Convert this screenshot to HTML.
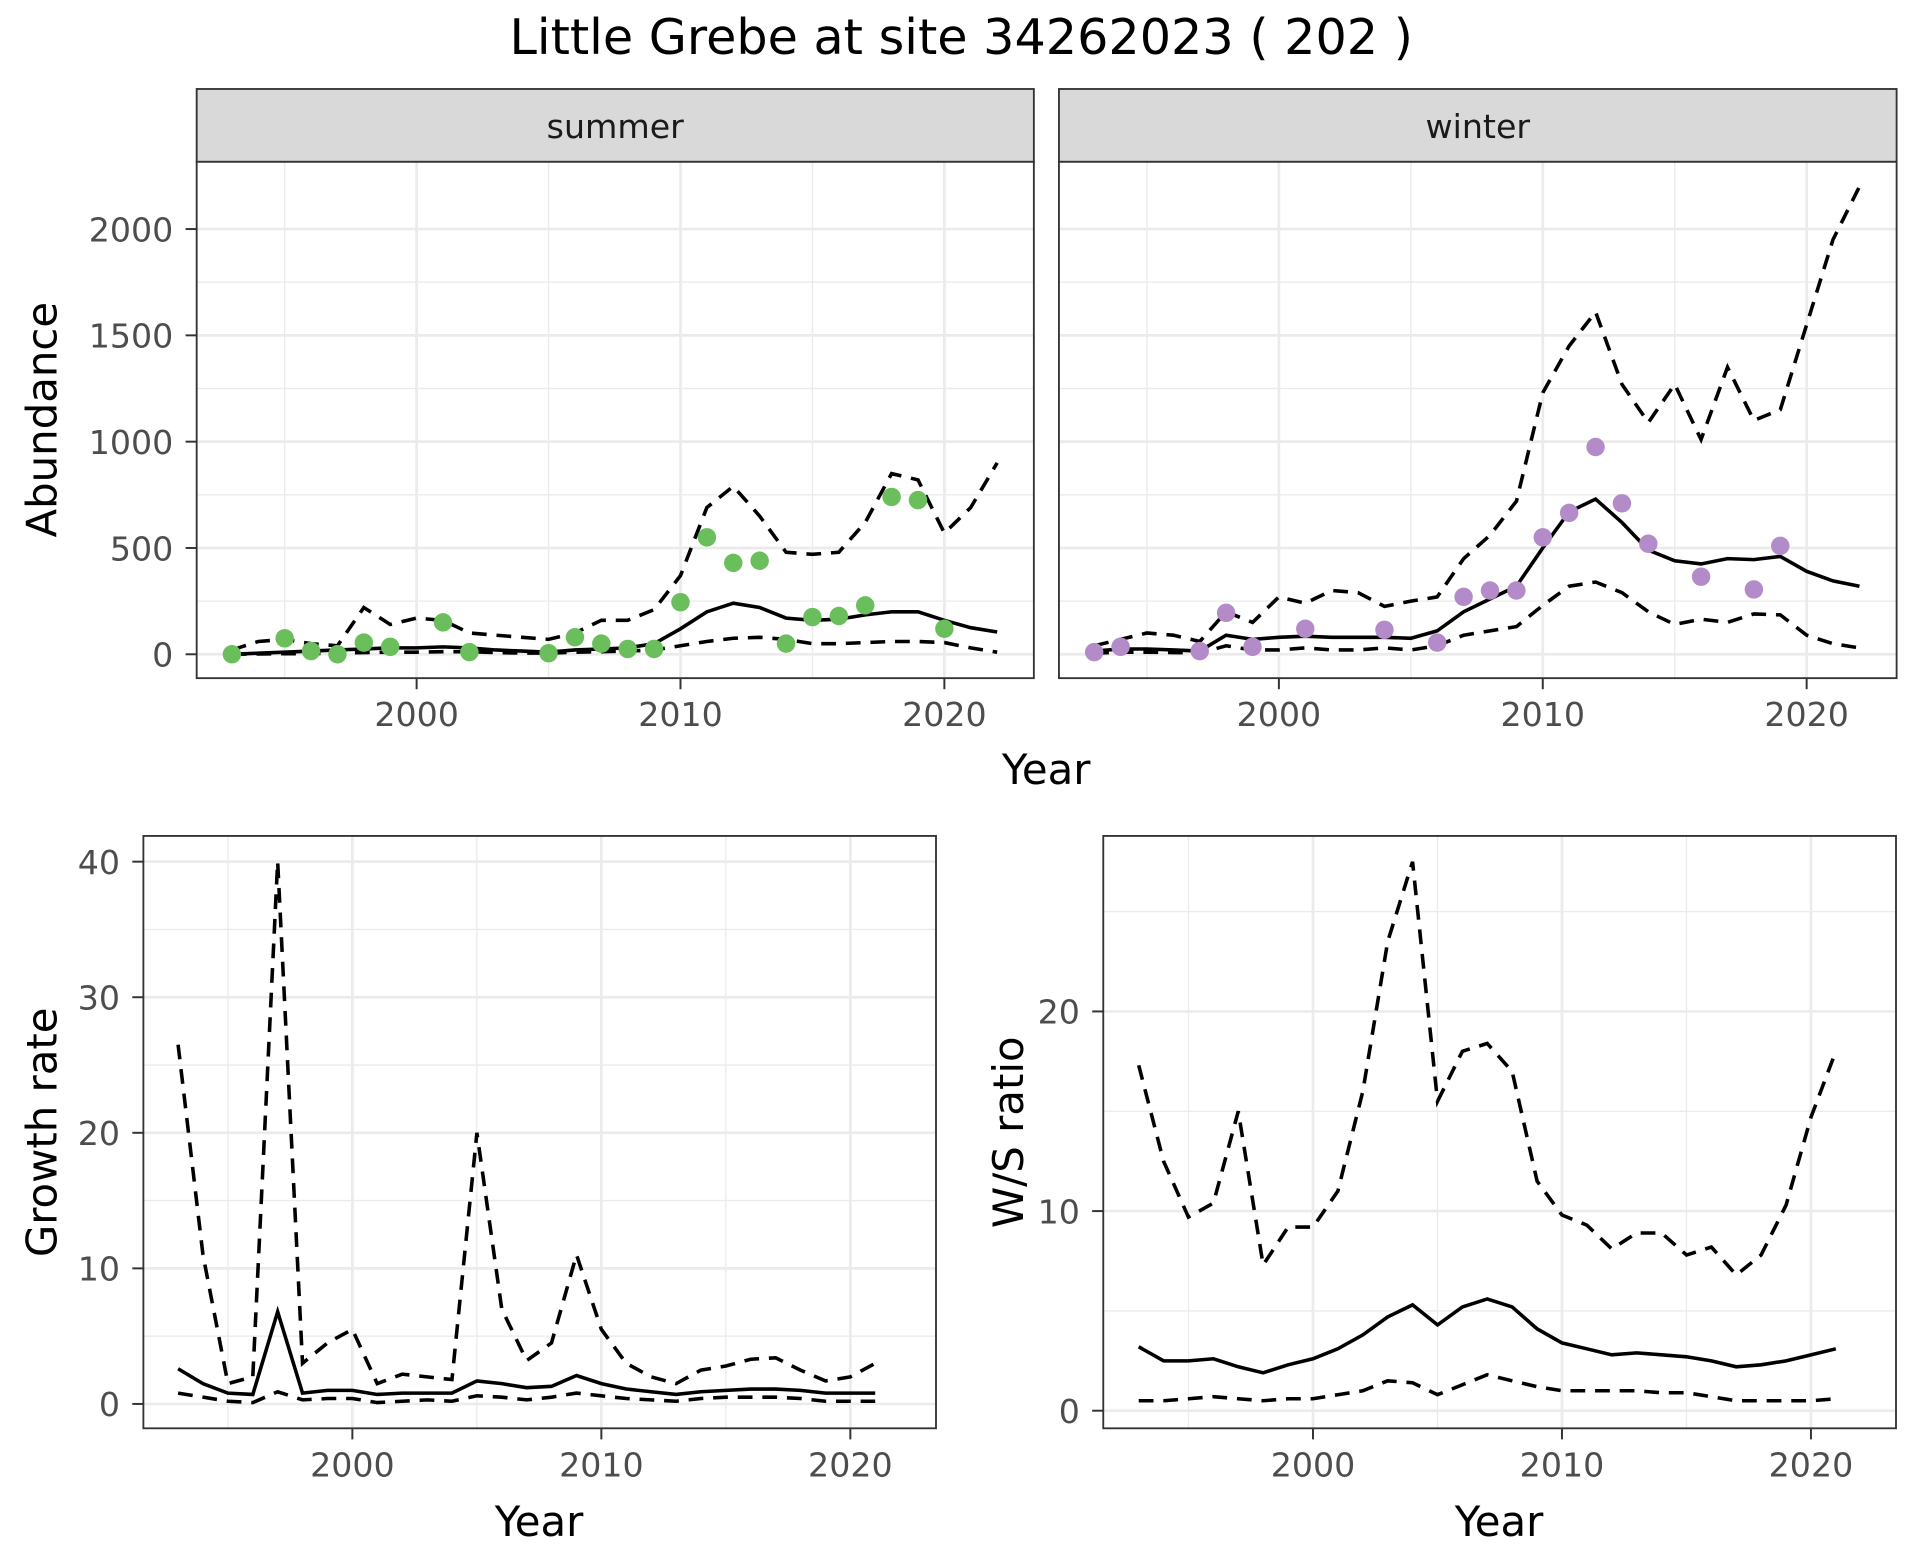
<!DOCTYPE html>
<html><head><meta charset="utf-8"><style>
html,body{margin:0;padding:0;background:#fff;}
svg{display:block;font-family:"DejaVu Sans","Liberation Sans",sans-serif;}
</style></head><body>
<svg id="chart" width="1920" height="1560" viewBox="0 0 1560 1267.5" xmlns="http://www.w3.org/2000/svg">
<text x="781" y="44" text-anchor="middle" font-size="40" fill="#000">Little Grebe at site 34262023 ( 202 )</text>
</svg>
<script>
const years = [];
for (let y = 1993; y <= 2022; y++) years.push(y);
const summerPointYears = [1993,1995,1996,1997,1998,1999,2001,2002,2005,2006,2007,2008,2009,2010,2011,2012,2013,2014,2015,2016,2017,2018,2019,2020];
const summerPointVals = [0,75,15,0,55,35,150,10,5,80,50,25,25,245,550,430,440,50,175,180,230,740,725,120];
const summerMean = [0,5,10,15,20,25,30,30,35,30,20,15,10,20,25,30,50,120,200,240,220,170,160,165,185,200,200,160,125,105];
const summerUpper = [20,60,70,50,40,220,140,170,160,100,90,80,70,100,160,160,210,370,690,790,650,480,470,480,620,850,820,570,690,900];
const summerLower = [0,2,3,3,5,8,10,10,12,12,8,6,5,10,12,15,20,40,60,75,80,70,50,50,55,60,60,55,30,10];
const winterPointYears = [1993,1994,1997,1998,1999,2001,2004,2006,2007,2008,2009,2010,2011,2012,2013,2014,2016,2018,2019];
const winterPointVals = [10,35,15,195,35,120,115,55,270,300,300,550,665,975,710,520,365,305,510];
const winterMean = [15,25,25,20,15,90,70,80,85,80,80,80,75,110,200,260,320,500,670,730,620,490,440,425,450,445,460,390,345,320];
const winterUpper = [40,70,100,90,60,200,150,270,240,300,290,225,250,270,450,560,720,1230,1450,1610,1270,1090,1270,1010,1350,1100,1150,1550,1950,2200];
const winterLower = [5,10,10,8,5,40,20,20,30,20,20,30,20,40,90,110,130,230,320,340,290,200,140,165,150,190,185,90,50,30];
const rateYears = years.slice(0,29);
const growthMean = [2.6,1.5,0.8,0.7,6.8,0.8,1.0,1.0,0.7,0.8,0.8,0.8,1.7,1.5,1.2,1.3,2.1,1.5,1.1,0.9,0.7,0.9,1.0,1.1,1.1,1.0,0.8,0.8,0.8];
const growthUpper = [26.5,11,1.5,2,40,3,4.5,5.5,1.5,2.2,2,1.8,20,7,3.2,4.5,11,5.5,3,2,1.5,2.5,2.8,3.3,3.4,2.5,1.7,2,3];
const growthLower = [0.8,0.5,0.2,0.1,0.9,0.3,0.4,0.4,0.1,0.2,0.3,0.2,0.6,0.5,0.3,0.5,0.8,0.6,0.4,0.3,0.2,0.4,0.5,0.5,0.5,0.4,0.2,0.2,0.2];
const wsMean = [3.2,2.5,2.5,2.6,2.2,1.9,2.3,2.6,3.1,3.8,4.7,5.3,4.3,5.2,5.6,5.2,4.1,3.4,3.1,2.8,2.9,2.8,2.7,2.5,2.2,2.3,2.5,2.8,3.1];
const wsUpper = [17.3,12.5,9.7,10.4,15,7.3,9.2,9.2,11,16,23.5,27.5,15.5,18,18.4,17,11.5,9.8,9.3,8.1,8.9,8.9,7.8,8.2,6.8,7.8,10.3,14.7,18];
const wsLower = [0.5,0.5,0.6,0.7,0.6,0.5,0.6,0.6,0.8,1.0,1.5,1.4,0.8,1.3,1.8,1.5,1.2,1.0,1.0,1.0,1.0,0.9,0.9,0.7,0.5,0.5,0.5,0.5,0.6];
const xTicks = [2000,2010,2020];
const xMinor = [1995,2005,2015];
const abTicks = [0,500,1000,1500,2000];
const abMinor = [250,750,1250,1750];
const grTicks = [0,10,20,30,40];
const grMinor = [5,15,25,35];
const wsTicks = [0,10,20];
const wsMinor = [5,15,25];

const svg = document.getElementById('chart');
const NS = 'http://www.w3.org/2000/svg';
function el(tag, attrs, parent){const e=document.createElementNS(NS,tag);for(const k in attrs)e.setAttribute(k,attrs[k]);(parent||svg).appendChild(e);return e;}

function panel(p){
  const g = el('g',{});
  
  
  const sx = v => p.x2000 + (v-2000)*p.pxYear;
  const sy = v => p.y0 - v*p.pxUnit;
  el('rect',{x:p.l,y:p.t,width:p.r-p.l,height:p.b-p.t,fill:'#fff'},g);
  p.yMinor.forEach(v=>{el('line',{x1:p.l,x2:p.r,y1:sy(v),y2:sy(v),stroke:'#ebebeb','stroke-width':1.1},g);});
  xMinor.forEach(v=>{el('line',{x1:sx(v),x2:sx(v),y1:p.t,y2:p.b,stroke:'#ebebeb','stroke-width':1.1},g);});
  p.yTicks.forEach(v=>{el('line',{x1:p.l,x2:p.r,y1:sy(v),y2:sy(v),stroke:'#ebebeb','stroke-width':2.2},g);});
  xTicks.forEach(v=>{el('line',{x1:sx(v),x2:sx(v),y1:p.t,y2:p.b,stroke:'#ebebeb','stroke-width':2.2},g);});
  function line(xs, ys, dashed, name){
    const d = ys.map((v,i)=>(i?'L':'M')+sx(xs[i]).toFixed(1)+','+sy(v).toFixed(1)).join('');
    const pa = el('path',{d:d,fill:'none',stroke:'#000','stroke-width':2.9,'stroke-dasharray':dashed?'12,8':'none'},g);
    
    
  }
  line(p.xs, p.upper, true, 'upper-ci-line');
  line(p.xs, p.lower, true, 'lower-ci-line');
  line(p.xs, p.mean, false, 'mean-line');
  if (p.ptsX) p.ptsX.forEach((yr,i)=>{
    const c = el('circle',{cx:sx(yr),cy:sy(p.ptsY[i]),r:7.5,fill:p.color},g);
    
    
  });
  el('rect',{x:p.l,y:p.t,width:p.r-p.l,height:p.b-p.t,fill:'none',stroke:'#333','stroke-width':1.5},g);
  if (p.showY) p.yTicks.forEach(v=>{
    el('line',{x1:p.l-9,x2:p.l,y1:sy(v),y2:sy(v),stroke:'#333','stroke-width':1.6},g);
    const t = el('text',{x:p.l-19,y:sy(v)+10,'text-anchor':'end','font-size':27,fill:'#4d4d4d'},g);
    t.textContent = v;
    
    
  });
  xTicks.forEach(v=>{
    el('line',{x1:sx(v),x2:sx(v),y1:p.b,y2:p.b+9,stroke:'#333','stroke-width':1.6},g);
    const t = el('text',{x:sx(v),y:p.b+39,'text-anchor':'middle','font-size':27,fill:'#4d4d4d'},g);
    t.textContent = v;
    
    
  });
  if (p.strip){
    el('rect',{x:p.l,y:72.3,width:p.r-p.l,height:59.1,fill:'#d9d9d9',stroke:'#333','stroke-width':1.5},g);
    const t = el('text',{x:(p.l+p.r)/2,y:112,'text-anchor':'middle','font-size':27,fill:'#1a1a1a'},g);
    t.textContent = p.strip;
    
    
  }
}

panel({name:'summer-panel',l:159.8,r:840,t:131.4,b:551,x2000:338.5,pxYear:21.44,y0:531.6,pxUnit:0.17275,yTicks:abTicks,yMinor:abMinor,showY:true,xs:years,mean:summerMean,upper:summerUpper,lower:summerLower,ptsX:summerPointYears,ptsY:summerPointVals,color:'#6abe5b',strip:'summer'});
panel({name:'winter-panel',l:860.4,r:1541,t:131.4,b:551,x2000:1039.1,pxYear:21.44,y0:531.6,pxUnit:0.17275,yTicks:abTicks,yMinor:abMinor,showY:false,xs:years,mean:winterMean,upper:winterUpper,lower:winterLower,ptsX:winterPointYears,ptsY:winterPointVals,color:'#b38bc8',strip:'winter'});
panel({name:'growth-rate-panel',l:116.5,r:760.5,t:679.2,b:1160.5,x2000:286.3,pxYear:20.23,y0:1140.7,pxUnit:11.015,yTicks:grTicks,yMinor:grMinor,showY:true,xs:rateYears,mean:growthMean,upper:growthUpper,lower:growthLower});
panel({name:'ws-ratio-panel',l:896.4,r:1540.5,t:679.2,b:1160.5,x2000:1066.8,pxYear:20.23,y0:1146.2,pxUnit:16.22,yTicks:wsTicks,yMinor:wsMinor,showY:true,xs:rateYears,mean:wsMean,upper:wsUpper,lower:wsLower});

function label(txt,x,y,rot,name){
  const t = el('text',{x:x,y:y,'text-anchor':'middle','font-size':34,fill:'#000',transform:rot?`rotate(-90 ${x} ${y})`:''});
  t.textContent = txt;
  
  
}
label('Year',850,637,false,'top-x-axis-title');
label('Abundance',46,341,true,'abundance-y-axis-title');
label('Year',438,1248,false,'growth-x-axis-title');
label('Growth rate',46,920,true,'growth-y-axis-title');
label('Year',1218,1248,false,'ws-x-axis-title');
label('W/S ratio',831,920,true,'ws-y-axis-title');
</script>
</body></html>
